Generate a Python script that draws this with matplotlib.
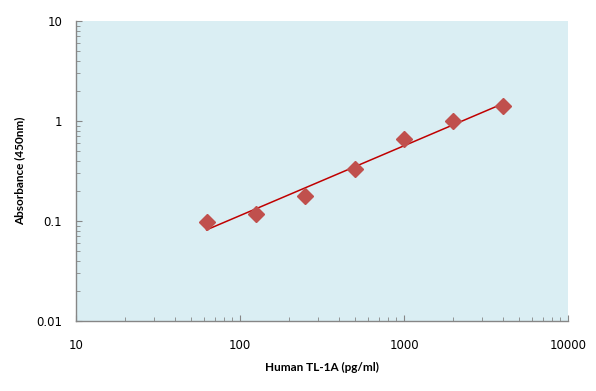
import numpy as np
import matplotlib
matplotlib.use("Agg")
import matplotlib.pyplot as plt
from matplotlib.ticker import LogLocator, FixedFormatter, FixedLocator

# === Data ===
conc = [62.5, 125, 250, 500, 1000, 2000, 4000]
absorbance = [0.098, 0.118, 0.179, 0.329, 0.656, 0.99, 1.41]

x_ticks = [10, 100, 1000, 10000]
x_labels = ["10", "100", "1000", "10000"]
y_ticks = [0.01, 0.1, 1, 10]
y_labels = ["0.01", "0.1", "1", "10"]

# power trendline (linear fit in log-log space)
slope, inter = np.polyfit(np.log10(conc), np.log10(absorbance), 1)
fit_x = np.array([conc[0], conc[-1]])
fit_y = 10 ** (inter + slope * np.log10(fit_x))

# === Plot ===
fig = plt.figure(figsize=(5.96, 3.91), dpi=100)
ax = fig.add_axes([76 / 596, 1 - 321 / 391, 492 / 596, 300 / 391])
ax.set_facecolor("#DAEEF3")

ax.plot(fit_x, fit_y, color="#C00000", lw=1.1, zorder=2)
ax.plot(conc, absorbance, ls="none", marker="D", ms=8, color="#C0504D",
        markeredgecolor="#C0504D", zorder=3)

ax.set_xscale("log")
ax.set_yscale("log")
ax.set_xlim(10, 10000)
ax.set_ylim(0.01, 10)

ax.xaxis.set_major_locator(FixedLocator(x_ticks))
ax.xaxis.set_major_formatter(FixedFormatter(x_labels))
ax.yaxis.set_major_locator(FixedLocator(y_ticks))
ax.yaxis.set_major_formatter(FixedFormatter(y_labels))
ax.xaxis.set_minor_locator(LogLocator(base=10, subs=np.arange(2, 10)))
ax.yaxis.set_minor_locator(LogLocator(base=10, subs=np.arange(2, 10)))

for side in ["top", "right"]:
    ax.spines[side].set_visible(False)
for side in ["left", "bottom"]:
    ax.spines[side].set_color("#868686")
    ax.spines[side].set_linewidth(1.0)

ax.tick_params(axis="both", which="both", direction="in", color="#868686",
               labelsize=8.5, labelcolor="black")
ax.tick_params(axis="both", which="major", length=4)
ax.tick_params(axis="both", which="minor", length=3)
ax.tick_params(axis="x", which="major", pad=13)
ax.tick_params(axis="y", which="major", pad=10)

ax.set_xlabel("Human TL-1A (pg/ml)", fontsize=8.5, fontweight="bold",
              family="Lato", labelpad=7)
ax.set_ylabel("Absorbance (450nm)", fontsize=8.5, fontweight="bold",
              family="Lato", labelpad=8)

fig.savefig("out.png", dpi=100)
